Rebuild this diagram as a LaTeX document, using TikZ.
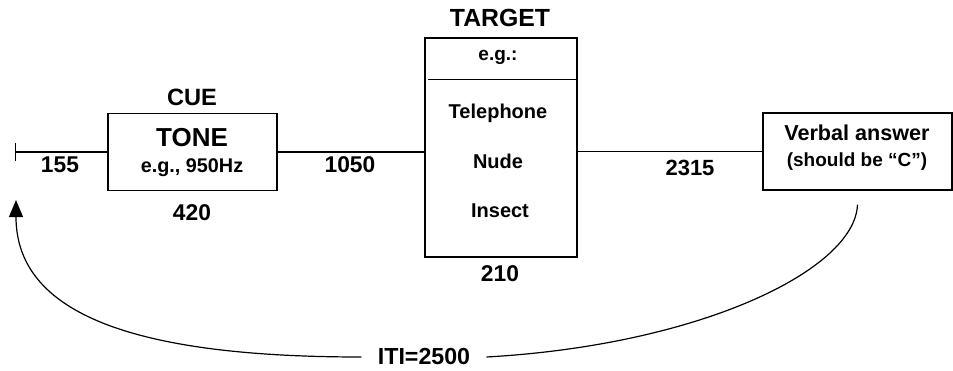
\documentclass[tikz,border=0pt]{standalone}
\usepackage{fontspec}
\setmainfont{Liberation Sans}
\usetikzlibrary{arrows.meta,positioning}

\begin{document}
\begin{tikzpicture}[x=0.5pt,y=-0.5pt,>=Stealth,
 every node/.style={font=\bfseries},
 stage/.style={draw,line width=0.6pt,inner sep=0pt},
 lbl/.style={inner sep=0pt,anchor=center},
 line/.style={line width=0.6pt}]
 \useasboundingbox (0,0) rectangle (953,370);
 % stages
 \node[stage,minimum width=84.5pt,minimum height=38.5pt] (cue) at (192.5,152) {};
 \node[stage,minimum width=76pt,minimum height=109.5pt] (target) at (501,147.5) {};
 \node[stage,minimum width=94.5pt,minimum height=38.5pt] (verbal) at (857.5,151.5) {};
 \coordinate (start) at (15,152);
 \coordinate (back) at (16,200);
 % time line
 \draw[line,{Bar[width=9pt]}-] (start) -- (cue.west);
 \draw[line] (cue.east) -- (cue.east -| target.west);
 \draw[line] (verbal.west -| target.east) -- (verbal.west);
 \draw[line] ([xshift=2pt,yshift=-21pt]target.north west) -- ([yshift=-21pt]target.north east);
 % texts
 \node[lbl,font=\bfseries\fontsize{11.8}{14}\selectfont] (cuehead) at (192,97) {CUE};
 \node[lbl,font=\bfseries\fontsize{13}{15}\selectfont] (tone) at (192,138) {TONE};
 \node[lbl,font=\bfseries\fontsize{9.9}{12}\selectfont] (freq) at (192,168) {e.g., 950Hz};
 \node[lbl,font=\bfseries\fontsize{11.4}{14}\selectfont] (d155) at (60,165) {155};
 \node[lbl,font=\bfseries\fontsize{11.4}{14}\selectfont] (d420) at (192,213) {420};
 \node[lbl,font=\bfseries\fontsize{11.4}{14}\selectfont] (d1050) at (350,165) {1050};
 \node[lbl,font=\bfseries\fontsize{12.4}{15}\selectfont] (targethead) at (500,18) {TARGET};
 \node[lbl,font=\bfseries\fontsize{9.5}{11}\selectfont] (eg) at (498,57) {e.g.:};
 \node[lbl,font=\bfseries\fontsize{10}{12}\selectfont] (tel) at (498,113) {Telephone};
 \node[lbl,font=\bfseries\fontsize{10}{12}\selectfont] (nude) at (498,161) {Nude};
 \node[lbl,font=\bfseries\fontsize{10}{12}\selectfont] (insect) at (500,211) {Insect};
 \node[lbl,font=\bfseries\fontsize{11.4}{14}\selectfont] (d210) at (500,274) {210};
 \node[lbl,font=\bfseries\fontsize{11}{13}\selectfont] (d2315) at (690,168) {2315};
 \node[lbl,font=\bfseries\fontsize{10.8}{13}\selectfont] (answer) at (857,133) {Verbal answer};
 \node[lbl,font=\bfseries\fontsize{9.5}{12}\selectfont] (should) at (857,162) {(should be “C”)};
 \node[inner xsep=8pt,inner ysep=0pt,font=\bfseries\fontsize{11.6}{14}\selectfont] (iti) at (424,357) {ITI=2500};
 % inter-trial interval
 \draw[line] ([yshift=-7pt]verbal.south) .. controls (855,270) and (700,345) .. (iti.east);
 \draw[line,-{Triangle[width=7pt,length=8.5pt]}] (iti.west) .. controls (150,357) and (16,320) .. (back);
\end{tikzpicture}
\end{document}
